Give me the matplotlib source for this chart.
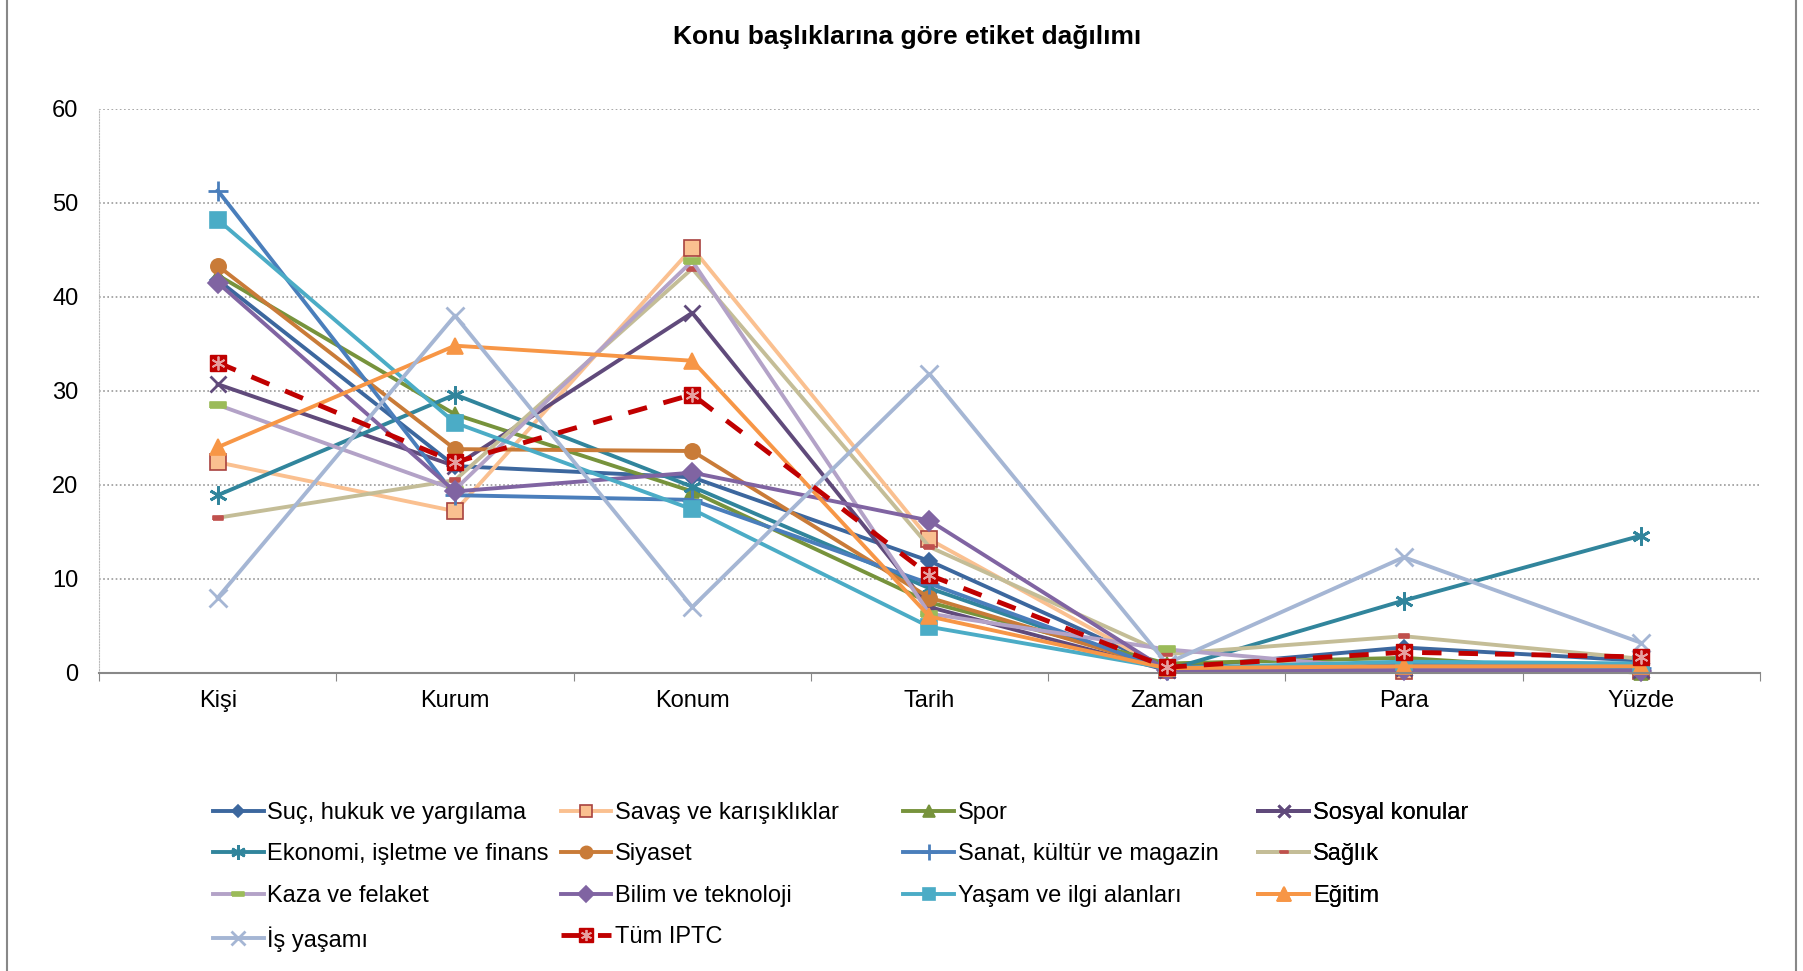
import matplotlib.pyplot as plt
from matplotlib.patches import Rectangle

kategoriler = ['Kişi', 'Kurum', 'Konum', 'Tarih', 'Zaman', 'Para', 'Yüzde']

suc = [41.8, 22.0, 20.8, 11.9, 0.5, 2.7, 1.3]
savas = [22.4, 17.2, 45.2, 14.2, 0.3, 0.2, 0.2]
spor = [42.3, 27.5, 19.3, 7.5, 1.0, 1.6, 0.0]
sosyal = [30.7, 22.0, 38.3, 7.0, 0.3, 0.5, 0.3]
ekonomi = [18.9, 29.6, 19.8, 9.0, 0.3, 7.7, 14.6]
siyaset = [43.3, 23.8, 23.6, 8.0, 0.5, 1.0, 0.8]
sanat = [51.3, 18.9, 18.4, 9.5, 0.3, 1.0, 0.5]
saglik = [16.5, 20.5, 43.0, 13.4, 2.0, 3.9, 1.5]
kaza = [28.5, 19.5, 43.8, 6.3, 2.5, 0.3, 0.2]
bilim = [41.5, 19.3, 21.3, 16.2, 0.3, 0.3, 0.2]
yasam = [48.2, 26.6, 17.4, 4.9, 0.5, 1.2, 1.0]
egitim = [24.0, 34.8, 33.2, 6.0, 0.5, 0.7, 0.7]
is_yasami = [8.0, 38.0, 7.0, 31.8, 1.0, 12.3, 3.2]
tum = [33.0, 22.4, 29.6, 10.4, 0.6, 2.2, 1.7]

plt.rcParams['font.family'] = ['Liberation Sans', 'DejaVu Sans']

fig = plt.figure(figsize=(18.03, 9.71), dpi=100)
ax = fig.add_axes([0.055, 0.307, 0.921, 0.581])
x = list(range(len(kategoriler)))

dash_mk = [(-1, -0.35), (1, -0.35), (1, 0.35), (-1, 0.35), (-1, -0.35)]
asterisk = (6, 2, 0)
lw = 2.8

# (etiket, veri, renk, marker, boyut, marker yüz, marker kenar)
seriler = [
    ('Suç, hukuk ve yargılama', suc, '#3C679E', 'D', 8, '#3C679E', '#3C679E'),
    ('Savaş ve karışıklıklar', savas, '#FAC090', 's', 11, '#FAC090', '#A8423F'),
    ('Spor', spor, '#77933C', '^', 10, '#77933C', '#77933C'),
    ('Sosyal konular', sosyal, '#604A7B', 'x', 11, '#604A7B', '#604A7B'),
    ('Ekonomi, işletme ve finans', ekonomi, '#31859C', asterisk, 13, '#31859C', '#31859C'),
    ('Siyaset', siyaset, '#C97B38', 'o', 11, '#C97B38', '#C97B38'),
    ('Sanat, kültür ve magazin', sanat, '#4A7EBB', '+', 14, '#4A7EBB', '#4A7EBB'),
    ('Sağlık', saglik, '#C4BD97', dash_mk, 7, '#C0504D', '#C0504D'),
    ('Kaza ve felaket', kaza, '#B3A2C7', dash_mk, 11, '#9BBB59', '#9BBB59'),
    ('Bilim ve teknoloji', bilim, '#8064A2', 'D', 10, '#8064A2', '#8064A2'),
    ('Yaşam ve ilgi alanları', yasam, '#4BACC6', 's', 11, '#4BACC6', '#4BACC6'),
    ('Eğitim', egitim, '#F79646', '^', 12, '#F79646', '#F79646'),
    ('İş yaşamı', is_yasami, '#A5B6D4', 'x', 13, '#A5B6D4', '#A5B6D4'),
]

handles = []
for etiket, veri, renk, mk, ms, fc, ec in seriler:
    mew = 2 if mk in ('x', '+', asterisk) else 1.2
    h, = ax.plot(x, veri, color=renk, lw=lw, marker=mk, ms=ms,
                 mfc=fc, mec=ec, mew=mew, label=etiket, clip_on=False)
    handles.append(h)

# Tüm IPTC: kırmızı kesik çizgi, içinde açık yıldız olan kare
h1, = ax.plot(x, tum, color='#C00000', lw=3.5, ls=(0, (4, 3.5)), marker='s',
              ms=12, mfc='#C00000', mec='#C00000', clip_on=False, zorder=5)
h2, = ax.plot(x, tum, ls='none', marker=asterisk, ms=10, mec='#E6A0A0',
              mew=1.3, clip_on=False, zorder=6)
handles.append((h1, h2))
etiketler = [s[0] for s in seriler] + ['Tüm IPTC']

ax.set_xlim(-0.5, 6.5)
ax.set_ylim(0, 60)
ax.set_yticks(range(0, 61, 10))
ax.tick_params(axis='y', length=0, labelsize=17, pad=15)
ax.yaxis.grid(True, ls=(0, (1, 1.5)), color='#999999', lw=1.2)
ax.set_axisbelow(True)

ax.set_xticks([i - 0.5 for i in range(8)])
ax.set_xticklabels([])
ax.set_xticks(x, minor=True)
ax.set_xticklabels(kategoriler, minor=True)
ax.tick_params(axis='x', which='major', length=6, color='#888888', direction='out')
ax.tick_params(axis='x', which='minor', length=0, labelsize=17, pad=12)

for s in ['top', 'right']:
    ax.spines[s].set_visible(False)
ax.spines['bottom'].set_color('#888888')
ax.spines['bottom'].set_linewidth(1.5)
ax.spines['left'].set_color('#BBBBBB')
ax.spines['left'].set_linestyle((0, (1, 1.5)))

fig.text(0.503, 0.962, 'Konu başlıklarına göre etiket dağılımı',
         ha='center', va='center', fontsize=19, fontweight='bold')

# lejant: dört sütun, satır sırasıyla
sutun_x = [0.118, 0.311, 0.501, 0.698]
for c in range(4):
    idx = list(range(c, len(handles), 4))
    ax.legend([handles[i] for i in idx], [etiketler[i] for i in idx],
              loc='upper left', bbox_to_anchor=(sutun_x[c], 0.174),
              bbox_transform=fig.transFigure, frameon=False, fontsize=17,
              handlelength=2.15, handletextpad=0.15, labelspacing=0.82,
              numpoints=1, markerscale=0.8, borderaxespad=0, borderpad=0)
    ax.add_artist(ax.get_legend())

fig.add_artist(Rectangle((0.004, -0.02), 0.992, 1.1, transform=fig.transFigure,
                         fill=False, edgecolor='#888888', lw=1.5))

fig.savefig('out.png', dpi=100)
